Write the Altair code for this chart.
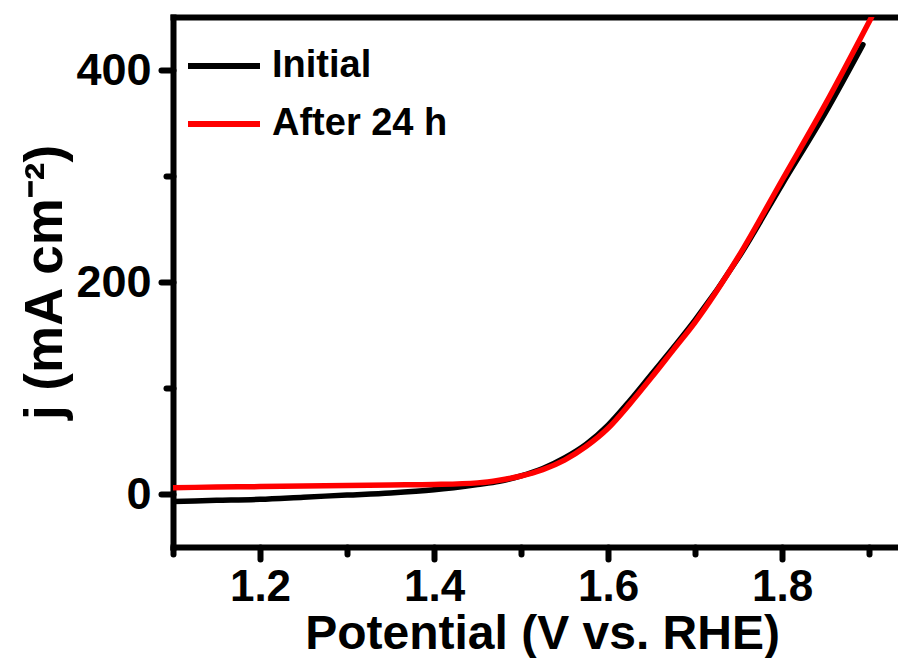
import altair as alt
import pandas as pd

# ---- data ----
initial_v = [1.10, 1.15, 1.20, 1.25, 1.30, 1.35, 1.40, 1.45, 1.475, 1.50, 1.525, 1.55,
             1.575, 1.60, 1.625, 1.65, 1.675, 1.70, 1.75, 1.80, 1.85, 1.893]
initial_j = [-7, -6, -5, -3, -1, 1, 4, 9, 12, 17, 24, 34,
             47, 65, 88, 113, 138, 164, 223, 292, 360, 424]

after_v = [1.10, 1.15, 1.20, 1.25, 1.30, 1.35, 1.40, 1.45, 1.475, 1.50, 1.525, 1.55,
           1.575, 1.60, 1.625, 1.65, 1.675, 1.70, 1.75, 1.80, 1.85, 1.903]
after_j = [6, 6.5, 7, 7.5, 8, 8.5, 9, 10.5, 13, 17, 23, 32,
           45, 62, 85, 110, 136, 162, 224, 296, 368, 450]

series_names = ["Initial", "After 24 h"]
series_colors = ["#000000", "#ff0000"]

x_ticks = [1.1, 1.2, 1.3, 1.4, 1.5, 1.6, 1.7, 1.8, 1.9]
y_ticks = [0, 100, 200, 300, 400]
x_domain = [1.1, 1.9333]
y_domain = [-50, 450]

df_init = pd.DataFrame({"v": initial_v, "j": initial_j, "series": series_names[0]})
df_after = pd.DataFrame({"v": after_v, "j": after_j, "series": series_names[1]})

FONT = "Liberation Sans"
W, H = 725, 530

x_major = "abs(round(datum.value*10)) % 2 == 0"
y_major = "abs(round(datum.value/100)) % 2 == 0"

xscale = alt.Scale(domain=x_domain, nice=False, zero=False)
yscale = alt.Scale(domain=y_domain, nice=False, zero=False)

y_enc = alt.Y(
    "j:Q", scale=yscale,
    axis=alt.Axis(
        values=y_ticks,
        labelExpr=f"{y_major} ? datum.label : ''",
        title="j (mA cm⁻²)",
        titleFont=FONT, titleFontSize=53, titleFontWeight="bold", titleColor="black",
        titleX=-112, titleY=H / 2, titleAngle=270, titleAlign="center",
        titleBaseline="alphabetic",
        labelFont=FONT, labelFontSize=45, labelFontWeight="bold", labelColor="black",
        labelPadding=10,
        domainColor="black", domainWidth=6, domainCap="square",
        tickColor="black", tickWidth=6, tickCap="round",
        tickSize={"condition": {"test": y_major, "value": 12}, "value": 7},
        grid=False,
    ),
)

color_enc = alt.Color(
    "series:N",
    scale=alt.Scale(domain=series_names, range=series_colors),
    legend=alt.Legend(
        title=None, orient="none", legendX=12, legendY=10,
        symbolType="stroke", symbolSize=5184, symbolStrokeWidth=6,
        labelFont=FONT, labelFontSize=38, labelFontWeight="bold", labelColor="black",
        labelOffset=9, rowPadding=-4, padding=0, labelLimit=0,
    ),
)

black = alt.Chart(df_init).mark_line(strokeWidth=5.5, clip=True, interpolate="monotone",
                                     strokeCap="round").encode(
    x=alt.X("v:Q", scale=xscale,
            axis=alt.Axis(
                orient="bottom", values=x_ticks,
                labelExpr=f"{x_major} ? datum.label : ''",
                title="Potential (V vs. RHE)",
                titleFont=FONT, titleFontSize=48, titleFontWeight="bold", titleColor="black",
                titleX=369, titleY=101, titleBaseline="alphabetic", titleAlign="center",
                labelFont=FONT, labelFontSize=44, labelFontWeight="bold", labelColor="black",
                labelPadding=6,
                domainColor="black", domainWidth=6, domainCap="square",
                tickColor="black", tickWidth=6, tickCap="round",
                tickSize={"condition": {"test": x_major, "value": 12}, "value": 7},
                grid=False,
            )),
    y=y_enc,
    color=color_enc,
)

red = alt.Chart(df_after).mark_line(strokeWidth=5.5, clip=True, interpolate="monotone",
                                    strokeCap="round").encode(
    x=alt.X("v:Q", scale=xscale,
            axis=alt.Axis(orient="top", labels=False, ticks=False, title=None, grid=False,
                          domainColor="black", domainWidth=6, domainCap="square")),
    y=y_enc,
    color=color_enc,
)

chart = alt.layer(black, red).resolve_axis(x="independent").properties(
    width=W, height=H,
    autosize=alt.AutoSizeParams(type="none"),
    padding={"left": 165, "top": 9, "right": 0, "bottom": 111},
    background="white",
).configure_view(stroke=None)

chart.save("out.html", embed_options={"renderer": "svg", "actions": False})
